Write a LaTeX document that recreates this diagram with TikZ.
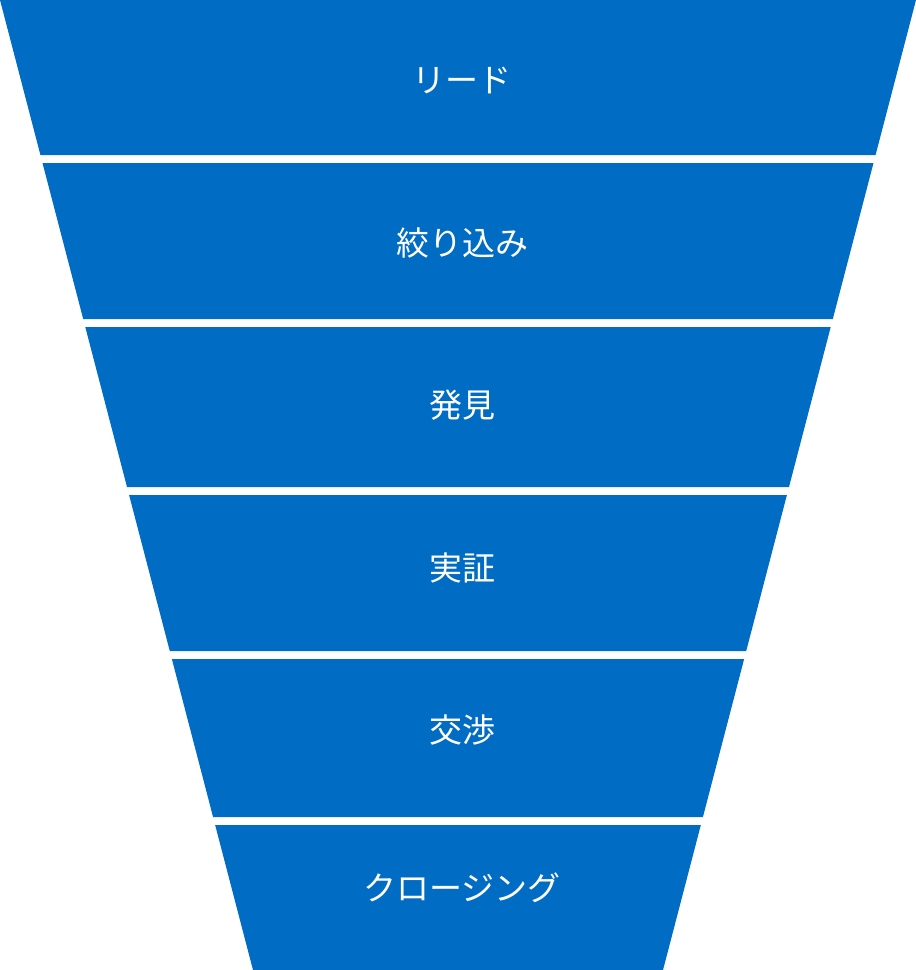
\documentclass[tikz,border=0pt]{standalone}
\usepackage{fontspec}
\newfontfamily\cjk{Noto Sans CJK JP}[Scale=1]
\definecolor{funnel}{HTML}{006CC4}
\begin{document}
\begin{tikzpicture}[x=1pt,y=-1pt,
  lbl/.style={text=white,font=\cjk\fontsize{33}{38}\selectfont}]
\useasboundingbox (0,0) rectangle (916,970);
\def\s{0.2608}
\foreach \a/\b/\t/\c in {0/155/リード/80,163/319/絞り込み/243,327/487/発見/405,495/651/実証/568,659/817/交渉/730,825/970/クロージング/888}{
  \fill[funnel] ({\a*\s},\a) -- ({916-\a*\s},\a) -- ({916-\b*\s},\b) -- ({\b*\s},\b) -- cycle;
  \node[lbl] (n\a) at (462,\c) {\t};
}
\end{tikzpicture}
\end{document}
